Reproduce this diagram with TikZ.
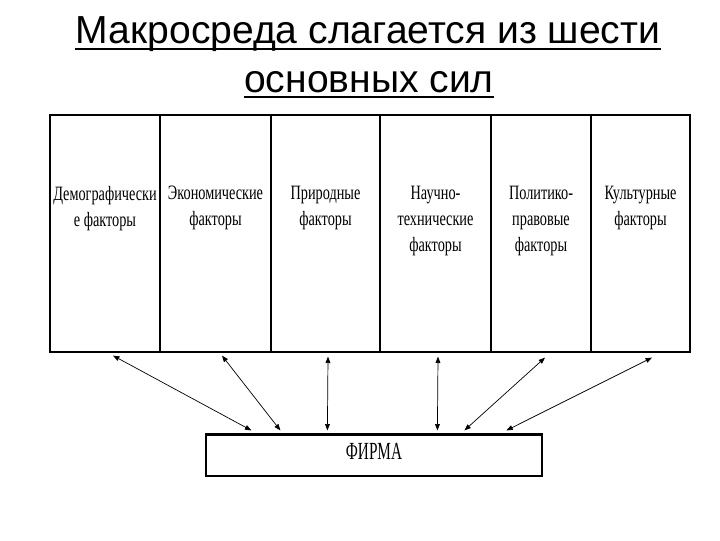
\documentclass[tikz,border=0pt]{standalone}
\usepackage{fontspec}
\usepackage{tikz}
\usetikzlibrary{arrows.meta, positioning, calc}
\newfontfamily\titlefont{Liberation Sans}
\newfontfamily\boxfont[FakeStretch=0.7]{Liberation Serif}
\newfontfamily\firmfont[FakeStretch=0.62]{Liberation Serif}

\tikzset{
  title/.style={font=\titlefont\fontsize{27.8}{30}\selectfont, inner sep=0pt},
  uline/.style={line width=1.5pt},
  factor/.style={draw, line width=0.8pt, minimum height=59.25mm, inner sep=0pt},
  factorlbl/.style={font=\boxfont\fontsize{14.5}{18.5}\selectfont, align=center, inner sep=0pt},
  firmbox/.style={draw, line width=0.8pt, minimum width=84mm, minimum height=10.25mm,
                  font=\firmfont\fontsize{17.5}{18}\selectfont, text depth=5.7pt},
  link/.style={{Triangle[length=1.6mm,width=1.2mm]}-{Triangle[length=1.6mm,width=1.2mm]},
               line width=0.5pt}
}

\begin{document}
\begin{tikzpicture}[x=0.025cm, y=-0.025cm]
  \useasboundingbox[fill=white] (0,0) rectangle (720,540);

  % Title
  \node[title, anchor=base] (title1) at (368,43) {Макросреда слагается из шести};
  \node[title, anchor=base] (title2) at (369,92) {основных сил};
  \draw[uline] ($(title1.base west)+(0,6)$) -- ($(title1.base east)+(0,6)$);
  \draw[uline] ($(title2.base west)+(0,5)$) -- ($(title2.base east)+(0,5)$);

  % Six forces
  \foreach \name/\xl/\xr/\txt in {demo/50/160/{Демографически\\е факторы},
      econ/160/271/{Экономические\\факторы},
      nature/271/380/{Природные\\факторы},
      tech/380/491/{Научно-\\технические\\факторы},
      polit/491/591/{Политико-\\правовые\\факторы},
      cult/591/690/{Культурные\\факторы}} {
    \node[factor, minimum width={(\xr-\xl)*0.25mm}] (\name) at ({(\xl+\xr)/2},233.5) {};
    \node[factorlbl, anchor=north] (\name-lbl) at ({(\xl+\xr)/2},186) {\txt};
  }

  % Firm
  \node[firmbox] (firm) at (374,455.5) {ФИРМА};
  \draw[line width=1.4pt] (firm.north west) -- (firm.north east);

  % Links
  \foreach \name/\dx/\dy/\fx in {demo/8/3/46, econ/6.5/3/75, nature/2.5/4/122,
      tech/2.5/4/232, polit/4/5/259, cult/11.5/5/301} {
    \draw[link] ($(\name.south)+(\dx,\dy)$) -- ($(firm.north west)+(\fx,-4)$);
  }
\end{tikzpicture}
\end{document}
